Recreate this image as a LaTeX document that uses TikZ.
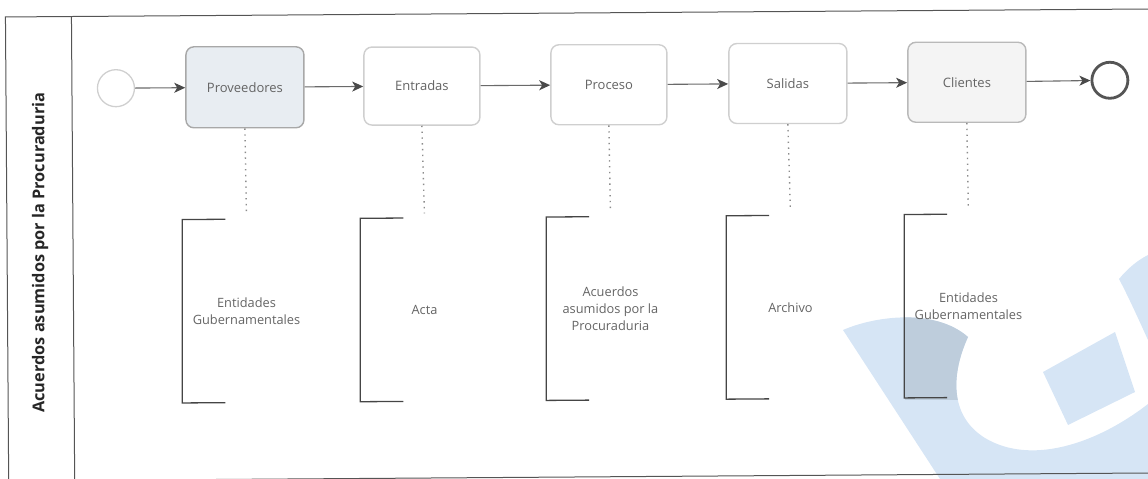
\documentclass[tikz,border=0pt]{standalone}
\usepackage{fontspec}
\setmainfont{Open Sans}
\usetikzlibrary{arrows.meta}
\definecolor{txt}{HTML}{646464}
\definecolor{flowgray}{HTML}{6A6A6A}
\definecolor{headcol}{HTML}{4A4A4A}
\definecolor{taskline}{HTML}{CFCFCF}
\definecolor{taskdark}{HTML}{A8A8A8}
\definecolor{provfill}{HTML}{E8EDF2}
\definecolor{clifill}{HTML}{F4F4F4}
\definecolor{bracketcol}{HTML}{454545}
\definecolor{poolcol}{HTML}{555555}
\definecolor{wm}{HTML}{D6E5F5}
\definecolor{wmdark}{HTML}{BECDDC}
\tikzset{
  task/.style={draw=taskline, rounded corners=8pt, minimum width=118pt,
    minimum height=80pt, line width=1.4pt, fill=white, text=txt,
    font=\fontsize{13}{15}\selectfont},
  annot/.style={minimum width=128pt, minimum height=183pt, inner sep=0pt,
    align=center, text=txt, font=\fontsize{12.8}{17}\selectfont},
  flow/.style={draw=flowgray, line width=1.1pt,
    -{Stealth[length=11pt,width=10pt,inset=3pt,color=headcol]}},
  assoc/.style={draw=gray!90, line width=1.4pt, dash pattern=on 1.4pt off 4.4pt},
  bracket/.style={draw=bracketcol, line width=1.3pt},
  pool/.style={draw=poolcol, line width=1pt},
}
\begin{document}
\begin{tikzpicture}[x=1pt,y=-1pt]
\useasboundingbox (0,0) rectangle (1148,479);

% faint logo in the lower right corner
\def\wmpath{(843,330) .. controls (875,316) and (935,308) .. (968,337)
  .. controls (952,372) and (948,415) .. (985,438)
  .. controls (1030,465) and (1095,445) .. (1148,404)
  -- (1148,479) -- (940,479) -- cycle}
\fill[wm] \wmpath;
\fill[wm] (1043,372) -- (1115,332) -- (1135,392) -- (1068,425) -- cycle;
\fill[wm] (1119,279) .. controls (1128,268) and (1138,260) .. (1148,255)
  -- (1148,340) .. controls (1138,318) and (1128,296) .. (1119,279) -- cycle;
\begin{scope}
  \clip \wmpath;
  \fill[wmdark] (905,216) rectangle (1033,400);
\end{scope}

\begin{scope}[rotate around={0.4:(574,240)}]
  % pool and lane header
  \draw[pool] (7,484) -- (7,13) -- (1160,13);
  \draw[pool] (73,13) -- (73,484);
  \draw[pool] (7,477) -- (1160,477);
  \node[rotate=90, text=black!85, font=\fontsize{16.3}{19}\selectfont\bfseries]
    (lane) at (40,249) {Acuerdos asumidos por la Procuraduria};

  % events
  \node[circle, draw=taskline, line width=1.3pt, minimum size=37pt, inner sep=0pt]
    (start) at (117,85) {};
  \node[circle, draw=poolcol, line width=2.8pt, minimum size=36pt, inner sep=0pt, fill=white]
    (end) at (1111,84) {};

  % tasks
  \node[task, draw=taskdark, fill=provfill, minimum height=81pt] (prov) at (246,85) {Proveedores};
  \node[task, minimum width=116pt, minimum height=78pt] (entr) at (423,85) {Entradas};
  \node[task, minimum width=116pt] (proc) at (610,85) {Proceso};
  \node[task] (sal) at (789,85) {Salidas};
  \node[task, draw=taskdark!80, fill=clifill] (cli) at (968,85) {Clientes};

  % sequence flows
  \draw[flow] (start) -- (prov);
  \draw[flow] (prov) -- (entr);
  \draw[flow] (entr) -- (proc);
  \draw[flow] (proc) -- (sal);
  \draw[flow] (sal) -- (cli);
  \draw[flow] (cli) -- (end);

  % text annotations
  \node[annot] (a1) at (246,309) {Entidades\\Gubernamentales};
  \node[annot] (a2) at (424,309) {Acta};
  \node[annot] (a3) at (610,309) {Acuerdos\\asumidos por la\\Procuraduria};
  \node[annot] (a4) at (790,309) {Archivo};
  \node[annot] (a5) at (968,309) {Entidades\\Gubernamentales};

  \foreach \a in {a1,a2,a3,a4,a5}{
    \draw[bracket] ([xshift=43pt]\a.north west) -- (\a.north west)
      -- (\a.south west) -- ([xshift=43pt]\a.south west);
  }

  % associations
  \draw[assoc] (prov.south) -- ([yshift=5pt]a1.north);
  \draw[assoc] (entr.south) -- ([yshift=5pt]a2.north);
  \draw[assoc] (proc.south) -- ([yshift=5pt]a3.north);
  \draw[assoc] (sal.south) -- ([yshift=5pt]a4.north);
  \draw[assoc] (cli.south) -- ([yshift=5pt]a5.north);
\end{scope}
\end{tikzpicture}
\end{document}
